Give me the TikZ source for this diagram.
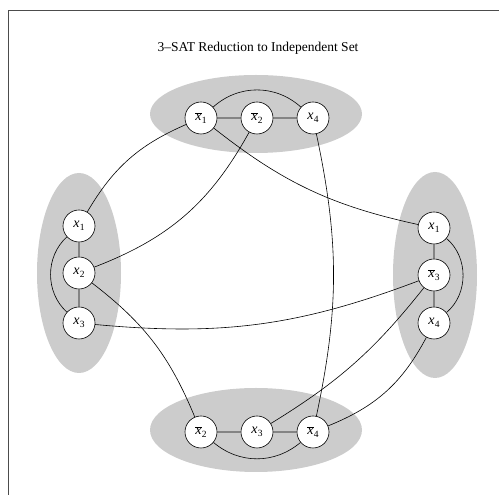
\documentclass[tikz,border=0pt]{standalone}
\usepackage{fontspec}
\setmainfont{Liberation Serif}
\definecolor{blobgray}{RGB}{204,204,204}
\newcommand{\xv}[1]{\textit{x}\kern0.3pt\raisebox{-0.45ex}{\fontsize{9.5}{10}\selectfont #1}}
\newcommand{\xn}[1]{$\overline{\mbox{\textit{x}}}$\kern0.3pt\raisebox{-0.45ex}{\fontsize{9.5}{10}\selectfont #1}}
\begin{document}
\begin{tikzpicture}[x=1pt,y=1pt,
  lit/.style={circle,draw,fill=white,minimum size=32pt,inner sep=0pt,line width=0.6pt,font=\fontsize{14}{16}\selectfont},
  blob/.style={fill=blobgray},
  edge/.style={line width=0.6pt}]
\useasboundingbox (0,0) rectangle (499,495);
\draw[line width=0.9pt,black!70] (8,0) -- (8,484.3) -- (499,484.3);
\node[font=\fontsize{13.5}{16}\selectfont] (title) at (258,447) {3--SAT Reduction to Independent Set};
% clusters
\fill[blob] (256,381) ellipse [x radius=106, y radius=39];
\fill[blob] (256,65) ellipse [x radius=106, y radius=42];
\fill[blob] (79,222) ellipse [x radius=42, y radius=100];
\fill[blob] (435,220) ellipse [x radius=42, y radius=103];
% nodes
\node[lit] (T1) at (201,377) {\xn{1}};
\node[lit] (T2) at (257,377) {\xn{2}};
\node[lit] (T3) at (313,377) {\xv{4}};
\node[lit] (L1) at (79,269) {\xv{1}};
\node[lit] (L2) at (79,222) {\xv{2}};
\node[lit] (L3) at (79,172) {\xv{3}};
\node[lit] (R1) at (434,267) {\xv{1}};
\node[lit] (R2) at (434,220) {\xn{3}};
\node[lit] (R3) at (434,172) {\xv{4}};
\node[lit] (B1) at (201,63) {\xn{2}};
\node[lit] (B2) at (257,63) {\xv{3}};
\node[lit] (B3) at (313,63) {\xn{4}};
% clause edges
\draw[edge] (T1) -- (T2) (T2) -- (T3) (T1) to[bend left=42] (T3);
\draw[edge] (L1) -- (L2) (L2) -- (L3) (L1) to[bend right=48] (L3);
\draw[edge] (R1) -- (R2) (R2) -- (R3) (R1) to[bend left=50] (R3);
\draw[edge] (B1) -- (B2) (B2) -- (B3) (B1) to[bend right=40] (B3);
% conflict edges
\draw[edge] (T1) to[bend right=18] (L1);
\draw[edge] (T2) to[bend left=20] (L2);
\draw[edge] (T1) to[bend right=13] (R1);
\draw[edge] (T3) to[bend left=12] (B3);
\draw[edge] (L2) to[bend left=15] (B1);
\draw[edge] (L3) to[bend right=13] (R2);
\draw[edge] (R2) to[bend left=10] (B2);
\draw[edge] (R3) to[bend left=20] (B3);
\end{tikzpicture}
\end{document}
